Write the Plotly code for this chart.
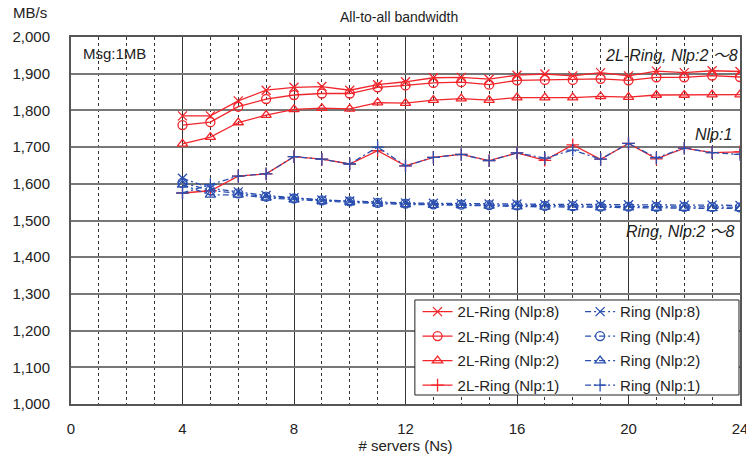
import plotly.graph_objects as go

servers = list(range(4, 25))

ring2l_8 = [1785, 1785, 1826, 1855, 1863, 1865, 1855, 1870, 1878, 1889, 1890, 1885, 1896, 1899, 1894, 1903, 1894, 1907, 1903, 1908, 1906]
ring2l_4 = [1760, 1768, 1810, 1831, 1842, 1846, 1846, 1863, 1868, 1875, 1877, 1870, 1882, 1883, 1883, 1886, 1882, 1890, 1890, 1895, 1891]
ring2l_2 = [1709, 1727, 1767, 1787, 1803, 1806, 1804, 1821, 1820, 1828, 1832, 1828, 1835, 1835, 1835, 1838, 1836, 1842, 1842, 1843, 1843]
ring2l_1 = [1575, 1581, 1621, 1627, 1674, 1667, 1654, 1690, 1649, 1672, 1680, 1663, 1684, 1664, 1706, 1667, 1710, 1668, 1697, 1685, 1687]

ring_8 = [1615, 1588, 1578, 1568, 1562, 1556, 1553, 1550, 1548, 1547, 1546, 1545, 1545, 1544, 1544, 1543, 1543, 1542, 1542, 1542, 1541]
ring_4 = [1603, 1582, 1574, 1565, 1560, 1555, 1552, 1548, 1546, 1544, 1543, 1542, 1541, 1540, 1539, 1538, 1538, 1537, 1537, 1537, 1536]
ring_2 = [1597, 1570, 1570, 1562, 1557, 1553, 1550, 1546, 1544, 1542, 1541, 1540, 1538, 1537, 1536, 1535, 1535, 1534, 1534, 1533, 1533]
ring_1 = [1575, 1598, 1621, 1627, 1674, 1667, 1654, 1700, 1649, 1672, 1680, 1663, 1684, 1670, 1692, 1667, 1710, 1671, 1697, 1685, 1680]

RED = "#f2252b"
BLUE = "#2a4fb0"
DASHDOT = "6px,3px,2px,3px"

fig = go.Figure()

series = [
    ("2L-Ring (Nlp:8)", ring2l_8, RED, "solid", "x-thin-open", "legend"),
    ("2L-Ring (Nlp:4)", ring2l_4, RED, "solid", "circle-open", "legend"),
    ("2L-Ring (Nlp:2)", ring2l_2, RED, "solid", "triangle-up-open", "legend"),
    ("2L-Ring (Nlp:1)", ring2l_1, RED, "solid", "cross-thin-open", "legend"),
    ("Ring (Nlp:8)", ring_8, BLUE, DASHDOT, "x-thin-open", "legend2"),
    ("Ring (Nlp:4)", ring_4, BLUE, DASHDOT, "circle-open", "legend2"),
    ("Ring (Nlp:2)", ring_2, BLUE, DASHDOT, "triangle-up-open", "legend2"),
    ("Ring (Nlp:1)", ring_1, BLUE, DASHDOT, "cross-thin-open", "legend2"),
]

for i, (name, ys, col, dash, sym, lg) in enumerate(series):
    fig.add_trace(go.Scatter(
        x=servers, y=ys, name=name, mode="lines+markers",
        line=dict(color=col, width=1.3, dash=dash),
        marker=dict(symbol=sym, size=9, color=col, line=dict(color=col, width=1.3)),
        legend=lg, legendgroup=f"g{i}",
    ))

font = "Liberation Sans, Arial, sans-serif"
TILDE = '<span style="font-family:\'Noto Sans CJK JP\'">～</span>'

leg_common = dict(
    orientation="v", yanchor="top", y=0.296, xanchor="left",
    bgcolor="rgba(0,0,0,0)", borderwidth=0, tracegroupgap=2,
    font=dict(size=15, color="#222"), traceorder="grouped",
)

fig.update_layout(
    width=746, height=455,
    margin=dict(l=71, r=6, t=37, b=51),
    paper_bgcolor="white", plot_bgcolor="white",
    font=dict(family=font, size=15, color="#222"),
    title=dict(text="All-to-all bandwidth", x=0.535, xanchor="center", y=0.963, yanchor="middle",
               font=dict(size=14, color="#222")),
    showlegend=True,
    legend=dict(x=0.518, **leg_common),
    legend2=dict(x=0.761, **leg_common),
    xaxis=dict(
        range=[0, 24], dtick=4, tick0=0, automargin=False,
        showgrid=True, gridcolor="#333", gridwidth=1,
        minor=dict(dtick=1, showgrid=True, gridcolor="#333", griddash="dot", gridwidth=1),
        showline=True, linecolor="#555", linewidth=2, mirror=True,
        ticks="", zeroline=False, ticklabeloverflow="allow", ticklabelstandoff=10,
        title=dict(text="# servers (Ns)", font=dict(size=15), standoff=4),
        tickfont=dict(size=15),
    ),
    yaxis=dict(
        range=[1000, 2000], dtick=100, tickformat=",d", automargin=False,
        showgrid=True, gridcolor="#777", gridwidth=1.5,
        showline=True, linecolor="#555", linewidth=2, mirror=True,
        ticks="", zeroline=False, ticklabelstandoff=16,
        tickfont=dict(size=15),
    ),
    shapes=[dict(type="rect", xref="paper", yref="paper", x0=0.514, x1=0.9985, y0=0.0245, y1=0.2834,
                 fillcolor="white", line=dict(color="#222", width=1), layer="above")],
)

ann = [
    dict(text="MB/s", x=-0.09, xref="paper", y=1.068, yref="paper", xanchor="left", yanchor="middle",
         showarrow=False, font=dict(size=15)),
    dict(text="Msg:1MB", x=0.35, y=1955, xref="x", yref="y", xanchor="left", yanchor="middle",
         showarrow=False, font=dict(size=15)),
    dict(text="<i>2L-Ring, Nlp:2 " + TILDE + "8</i>", x=24.0, y=1955, xref="x", yref="y", xanchor="right",
         yanchor="middle", showarrow=False, font=dict(size=16)),
    dict(text="<i>Nlp:1</i>", x=23.8, y=1735, xref="x", yref="y", xanchor="right", yanchor="middle",
         showarrow=False, font=dict(size=16)),
    dict(text="<i>Ring, Nlp:2 " + TILDE + "8</i>", x=23.9, y=1475, xref="x", yref="y", xanchor="right",
         yanchor="middle", showarrow=False, font=dict(size=16)),
]
fig.update_layout(annotations=ann)

fig.write_html("out.html")
